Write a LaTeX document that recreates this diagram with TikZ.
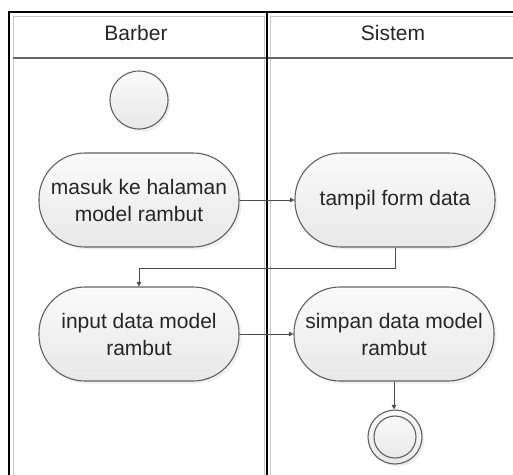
\documentclass[tikz,border=0pt]{standalone}
\usepackage{fontspec}
\setmainfont{Liberation Sans}
\usetikzlibrary{shadows,arrows.meta}
\begin{document}
\begin{tikzpicture}[x=1pt,y=-1pt,
  txt/.style={text=black!85, font=\fontsize{21}{27}\selectfont},
  act/.style={txt, draw=black!62, line width=1.1pt, rounded corners=46pt,
    minimum width=200pt, minimum height=94pt, inner sep=0pt, align=center,
    top color=black!2, bottom color=black!9,
    drop shadow={shadow xshift=2.5pt, shadow yshift=-2.5pt, fill=black!12}},
  startnode/.style={circle, draw=black!62, line width=1.1pt, minimum size=58pt,
    top color=black!2, bottom color=black!9,
    drop shadow={shadow xshift=2.5pt, shadow yshift=-2.5pt, fill=black!12}},
  endnode/.style={circle, draw=black!62, line width=1.1pt, minimum size=54pt,
    top color=black!2, bottom color=black!9,
    drop shadow={shadow xshift=2.5pt, shadow yshift=-2.5pt, fill=black!12}},
  flow/.style={draw=black!70, line width=1pt, -{Triangle[length=4.5pt,width=4.5pt]}},
  lanehead/.style={txt}
]
\useasboundingbox (0,0) rectangle (513,474);
\fill[white] (0,0) rectangle (513,474);

% swimlane frame, clipped at the page edges
\begin{scope}
  \clip (0,0) rectangle (513,474);
  \draw[black!22, line width=0.8pt] (13,16) rectangle (264,490);
  \draw[black!22, line width=0.8pt] (270,16) rectangle (530,490);
  \draw[black!60, line width=1.2pt] (13,58) -- (530,58);
  \draw[black, line width=1.6pt] (9,12) rectangle (530,490);
  \draw[black, line width=2pt] (267,12) -- (267,490);
\end{scope}

\node[lanehead] (hb) at (136,33) {Barber};
\node[lanehead] (hs) at (393,33) {Sistem};

% activities
\node[startnode] (start) at (139,100) {};
\node[act] (masuk) at (139,200) {masuk ke halaman\\model rambut};
\node[act] (tampil) at (395,200) {tampil form data};
\node[act] (input) at (139,334) {input data model\\rambut};
\node[act] (simpan) at (394,334) {simpan data model\\rambut};
\node[endnode] (end) at (395,437) {};
\draw[black!62, line width=1.1pt] (end.center) circle[radius=21pt];

% control flow
\draw[flow] (masuk.east) -- (tampil.west);
\draw[flow] (tampil.south) |- (139,268) -- (input.north);
\draw[flow] (input.east) -- (simpan.west);
\draw[flow] (simpan.south) -- (end.north -| simpan.south);
\end{tikzpicture}
\end{document}
